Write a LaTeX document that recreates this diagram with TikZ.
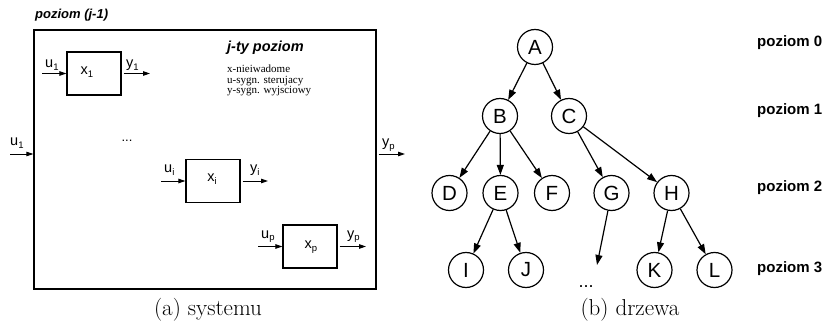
\documentclass[tikz,border=0pt]{standalone}
\usepackage{fontspec}
\usetikzlibrary{arrows.meta}
\newfontfamily\hv{Liberation Sans}
\newfontfamily\tms{Liberation Serif}
% lowered index used in the block labels
\newcommand\lowidx[1]{\raisebox{-2.5pt}{\fontsize{9.5}{9.5}\selectfont #1}}
\begin{document}
\begin{tikzpicture}[x=1pt,y=-1pt,
  sysbox/.style={draw, line width=1.2pt, minimum width=54pt, minimum height=43pt, inner sep=0pt},
  outerbox/.style={draw, line width=1.3pt, minimum width=342pt, minimum height=259pt, inner sep=0pt},
  sig/.style={font=\hv\fontsize{14.5}{15}\selectfont, anchor=base west, inner sep=0pt},
  blk/.style={font=\hv\fontsize{14.5}{15}\selectfont, inner sep=0pt},
  sarrow/.style={line width=0.9pt, -{Triangle[length=7pt,width=4.5pt]}},
  tnode/.style={draw, circle, line width=1.2pt, minimum size=35pt, inner sep=0pt, font=\hv\fontsize{20.5}{20}\selectfont},
  tarrow/.style={line width=1.2pt, -{Triangle[length=10pt,width=7pt]}},
  lvl/.style={font=\hv\bfseries\fontsize{15}{15}\selectfont, anchor=base west, inner sep=0pt},
  caption/.style={font=\fontsize{23}{26}\selectfont, anchor=base, inner sep=0pt}
]
\useasboundingbox (0,0) rectangle (824,331);

% ---------- system: level j inside level (j-1)
\node[anchor=base west, inner sep=0pt, font=\hv\bfseries\itshape\fontsize{13}{14}\selectfont] (lvlprev) at (35,19) {poziom (j-1)};
\node[outerbox] (outer) at (205,159.5) {};
\node[anchor=base west, inner sep=0pt, font=\hv\bfseries\itshape\fontsize{14.5}{15}\selectfont] (lvlj) at (227,52) {j-ty poziom};
\node[anchor=base west, inner sep=0pt, font=\tms\fontsize{11}{10.5}\selectfont] (legend1) at (227,73) {x-nieiwadome};
\node[anchor=base west, inner sep=0pt, font=\tms\fontsize{11}{10.5}\selectfont] (legend2) at (227,83.5) {u-sygn. sterujacy};
\node[anchor=base west, inner sep=0pt, font=\tms\fontsize{11}{10.5}\selectfont] (legend3) at (227,94) {y-sygn. wyjsciowy};

% outer input and output
\coordinate (uin) at (10,154);
\coordinate (yout) at (405,154);
\draw[sarrow] (uin) -- (uin -| outer.west);
\draw[sarrow] ([xshift=2pt]outer.east |- yout) -- (yout);
\node[sig] (ulab) at (10,146) {u\lowidx{1}};
\node[sig] (yplab) at (382,147) {y\lowidx{p}};

% blocks
\node[sysbox] (b1) at (94,73.5) {};
\node[sysbox] (bi) at (213,181) {};
\node[sysbox] (bp) at (310,246.5) {};
\node[blk] (x1) at (87,72) {x\lowidx{1}};
\node[blk] (xi) at (212,179) {x\lowidx{i}};
\node[blk] (xp) at (311,247) {x\lowidx{p}};

\node[font=\hv\fontsize{13}{13}\selectfont, inner sep=0pt] (dots1) at (127,141) {...};

% block inputs and outputs
\coordinate (u1s) at (42,73.5);
\coordinate (y1e) at (150,73.5);
\coordinate (uis) at (161,181);
\coordinate (yie) at (268,181);
\coordinate (ups) at (258,246.5);
\coordinate (ype) at (366,246.5);
\draw[sarrow] (u1s) -- (b1.west);
\draw[sarrow] ([xshift=2pt]b1.east) -- (y1e);
\draw[sarrow] (uis) -- (bi.west);
\draw[sarrow] ([xshift=2pt]bi.east) -- (yie);
\draw[sarrow] (ups) -- (bp.west);
\draw[sarrow] ([xshift=2pt]bp.east) -- (ype);
\node[sig] (u1l) at (45,68) {u\lowidx{1}};
\node[sig] (y1l) at (126,68) {y\lowidx{1}};
\node[sig] (uil) at (164,173) {u\lowidx{i}};
\node[sig] (yil) at (250,173) {y\lowidx{i}};
\node[sig] (upl) at (261,238) {u\lowidx{p}};
\node[sig] (ypl) at (347,238) {y\lowidx{p}};

\node[caption] (capa) at (208,315) {(a) systemu};

% ---------- tree
\node[tnode] (A) at (535,47) {A};
\node[tnode] (B) at (500,116) {B};
\node[tnode] (C) at (569,116) {C};
\node[tnode] (D) at (449.5,193) {D};
\node[tnode] (E) at (500.5,193) {E};
\node[tnode] (F) at (552,193) {F};
\node[tnode] (G) at (611.5,193) {G};
\node[tnode] (H) at (671.5,193) {H};
\node[tnode] (I) at (466,270) {I};
\node[tnode] (J) at (526,270) {J};
\node[tnode] (K) at (654.5,270) {K};
\node[tnode] (L) at (714.5,270) {L};
\coordinate (gend) at (597,265);
\node[font=\hv\fontsize{18}{18}\selectfont, inner sep=0pt, anchor=base] (dots2) at (586,287) {...};

\draw[tarrow] (A) -- (B);
\draw[tarrow] (A) -- (C);
\draw[tarrow] (B) -- (D);
\draw[tarrow] (B) -- (E);
\draw[tarrow] (B) -- (F);
\draw[tarrow] (C) -- (G);
\draw[tarrow] (C) -- (H);
\draw[tarrow] (E) -- (I);
\draw[tarrow] (E) -- (J);
\draw[tarrow] (G) -- (gend);
\draw[tarrow] (H) -- (K);
\draw[tarrow] (H) -- (L);

\node[lvl] (p0) at (757,47) {poziom 0};
\node[lvl] (p1) at (757,115) {poziom 1};
\node[lvl] (p2) at (757,192) {poziom 2};
\node[lvl] (p3) at (757,272) {poziom 3};

\node[caption] (capb) at (630,315) {(b) drzewa};
\end{tikzpicture}
\end{document}
